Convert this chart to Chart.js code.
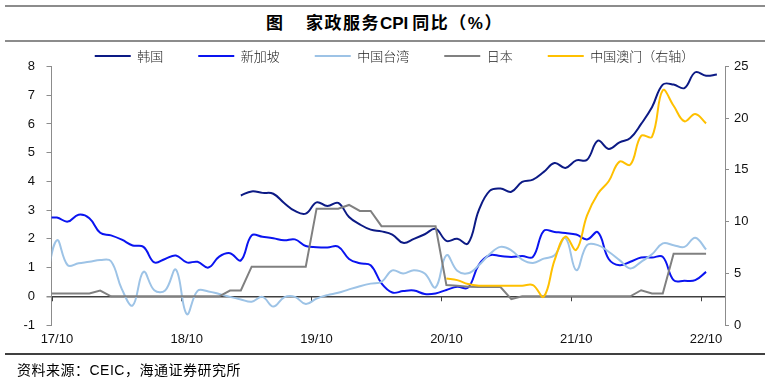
<!DOCTYPE html>
<html>
<head>
<meta charset="utf-8">
<script src="https://cdn.jsdelivr.net/npm/chart.js@4"></script>
<style>
  body { margin: 0; background: #fff; }
  #wrap { position: relative; width: 769px; height: 385px; overflow: hidden; }
  #chart { position: absolute; left: 0; top: 0; }
  .rule { position: absolute; left: 5px; width: 760px; height: 2px; background: #8c8c8c; }
  .title { position: absolute; top: 12px; color: #000; white-space: nowrap;
           font: bold 17px "Liberation Sans", "Noto Sans CJK SC", sans-serif; line-height: 23px; }
  .title .cjk { letter-spacing: 1.5px; }
  .title .lat { font-size: 17px; margin-right: 4px; }
  #source { position: absolute; left: 17px; top: 361px; color: #000; white-space: nowrap; letter-spacing: 0.5px;
            font: 14px "Liberation Sans", "Noto Sans CJK SC", sans-serif; line-height: 18px; }
</style>
</head>
<body>
<div id="wrap">
  <div class="rule" style="top:5px"></div>
  <div class="title" style="left:266px">图</div>
  <div class="title" style="left:306px"><span class="cjk">家政服务</span><span class="lat">CPI</span><span class="cjk">同比（%）</span></div>
  <div class="rule" style="top:39.5px"></div>
  <canvas id="chart" width="769" height="385"></canvas>
  <div class="rule" style="top:353px; background:#404040"></div>
  <div id="source">资料来源：CEIC，海通证券研究所</div>
</div>
<script>
// monthly categories, 17/09 .. 22/11
const months = [
  '17/09','17/10','17/11','17/12',
  '18/01','18/02','18/03','18/04','18/05','18/06','18/07','18/08','18/09','18/10','18/11','18/12',
  '19/01','19/02','19/03','19/04','19/05','19/06','19/07','19/08','19/09','19/10','19/11','19/12',
  '20/01','20/02','20/03','20/04','20/05','20/06','20/07','20/08','20/09','20/10','20/11','20/12',
  '21/01','21/02','21/03','21/04','21/05','21/06','21/07','21/08','21/09','21/10','21/11','21/12',
  '22/01','22/02','22/03','22/04','22/05','22/06','22/07','22/08','22/09','22/10','22/11'
];
const xTickLabels = ['17/10', '18/10', '19/10', '20/10', '21/10', '22/10'];

// left axis, %
const korea = [
  null, null, null, null, null, null, null, null, null, null, null, null, null, null, null, null, null, null,
  3.51, 3.65, 3.6, 3.57, 3.25, 2.97, 2.88, 3.27, 3.14, 3.25, 2.76, 2.5, 2.32, 2.26, 2.15, 1.86, 2.0, 2.16, 2.35,
  1.93, 2.0, 1.84, 3.0, 3.67, 3.75, 3.64, 3.98, 4.06, 4.33, 4.64, 4.47, 4.73, 4.75, 5.42, 5.13, 5.36, 5.51,
  6.0, 6.58, 7.37, 7.37, 7.25, 7.8, 7.68, 7.72
];
const singapore = [
  2.72, 2.74, 2.6, 2.84, 2.72, 2.21, 2.12, 1.97, 1.77, 1.72, 1.18, 1.3, 1.42, 1.18, 1.2, 1.0, 1.38, 1.5, 1.25,
  2.12, 2.07, 2.02, 1.95, 1.98, 1.75, 1.71, 1.7, 1.73, 1.3, 1.15, 1.08, 0.45, 0.13, 0.18, 0.2, 0.08, 0.1,
  0.22, 0.33, 0.3, 1.1, 1.43, 1.4, 1.37, 1.4, 1.37, 2.28, 2.24, 2.2, 2.15, 1.98, 2.23, 1.3, 1.08, 1.2,
  1.35, 1.35, 1.37, 0.56, 0.54, 0.56, 0.85, null
];
const taiwan = [
  0.5, 1.95, 1.08, 1.15, 1.2, 1.26, 1.22, 0.25, -0.32, 0.85, 0.21, 0.2, 0.93, -0.62, 0.19, 0.17, 0.08,
  -0.02, -0.11, -0.19, -0.02, -0.36, -0.04, -0.02, -0.27, -0.08, 0.04, 0.12, 0.24, 0.35, 0.44, 0.5, 0.9,
  0.79, 0.91, 0.79, 0.31, 1.43, 0.89, 0.8, 1.08, 1.47, 1.72, 1.6, 1.28, 1.16, 1.31, 1.43, 2.03, 0.91,
  1.78, 1.78, 1.55, 1.26, 0.97, 1.2, 1.46, 1.84, 1.78, 1.72, 2.04, 1.63, null
];
const japan = [
  0.1, 0.1, 0.1, 0.1, 0.1, 0.2, 0, 0, 0, 0, 0, 0, 0, 0, 0, 0, 0, 0.2, 0.2,
  1.03, 1.03, 1.03, 1.03, 1.03, 1.03, 3.05, 3.05, 3.05, 3.18, 2.97, 2.97,
  2.44, 2.44, 2.44, 2.44, 2.44, 2.44, 0.39, 0.37, 0.33, 0.32, 0.32, 0.32, -0.1,
  0, 0, 0, 0, 0, 0, 0, 0, 0, 0, 0, 0.21, 0.1, 0.1, 1.48, 1.48, 1.48, 1.48, null
];
// right axis, %
const macau = [
  null, null, null, null, null, null, null, null, null, null, null, null, null, null, null, null, null, null, null,
  null, null, null, null, null, null, null, null, null, null, null, null, null, null, null, null, null, null,
  4.5, 4.34, 3.96, 3.8, 3.8, 3.8, 3.8, 3.8, 3.86, 2.74, 6.27, 8.55, 7.27, 10.6, 12.7, 13.9, 15.8, 15.5,
  18.3, 18.2, 22.7, 21.2, 19.7, 20.4, 19.5, null
];

const axisGrey = '#8c8c8c';
Chart.defaults.font.family = "'Liberation Sans', Arial, sans-serif";
Chart.defaults.font.size = 13;
Chart.defaults.color = '#111';

function line(label, data, color, axis, tension, order) {
  return {
    label: label,
    data: months.map((m, i) => ({ x: i, y: data[i] })),
    borderColor: color,
    backgroundColor: color,
    borderWidth: 2,
    pointRadius: 0,
    tension: tension,
    yAxisID: axis,
    order: order
  };
}

// little tick marks sitting on the zero line, between years
const zeroTicks = {
  id: 'zeroTicks',
  beforeDatasetsDraw(chart) {
    const { ctx, scales: { x, y } } = chart;
    const y0 = y.getPixelForValue(0);
    ctx.save();
    ctx.strokeStyle = '#404040';
    ctx.lineWidth = 1;
    xTickLabels.forEach(l => {
      const px = Math.round(x.getPixelForValue(months.indexOf(l) - 0.5)) + 0.5;
      ctx.beginPath();
      ctx.moveTo(px, y0);
      ctx.lineTo(px, y0 + 5);
      ctx.stroke();
    });
    ctx.restore();
  }
};

new Chart(document.getElementById('chart'), {
  type: 'line',
  data: {
    datasets: [
      line('韩国', korea, '#0c1a85', 'y', 0.4, 5),
      line('新加坡', singapore, '#0a14f0', 'y', 0.4, 4),
      line('中国台湾', taiwan, '#9dc3e6', 'y', 0.4, 3),
      line('日本', japan, '#808080', 'y', 0, 2),
      line('中国澳门（右轴）', macau, '#ffc000', 'y1', 0.4, 1)
    ]
  },
  options: {
    responsive: false,
    animation: false,
    events: [],
    layout: { padding: { top: 40.5, left: 20, right: 0, bottom: 40 } },
    plugins: {
      tooltip: { enabled: false },
      legend: {
        position: 'top',
        maxHeight: 26,
        labels: {
          boxWidth: 36,
          boxHeight: 2,
          padding: 9,
          color: '#222',
          font: { family: "'Noto Sans CJK SC'", size: 13, weight: '300' },
          generateLabels: chart => {
            const items = Chart.defaults.plugins.legend.labels.generateLabels(chart)
              .sort((a, b) => a.datasetIndex - b.datasetIndex);
            return items.map((l, i) => ({
              ...l,
              text: i < items.length - 1 ? l.text + '\u3000\u3000' : l.text,
              lineWidth: 0,
              fillStyle: l.strokeStyle
            }));
          }
        }
      }
    },
    scales: {
      x: {
        type: 'linear',
        min: 0.5,
        max: 62.75,
        afterBuildTicks: s => { s.ticks = xTickLabels.map(l => ({ value: months.indexOf(l) })); },
        afterFit: s => { s.height = 20; },
        ticks: { autoSkip: false, maxRotation: 0, padding: 7, callback: v => months[v] },
        grid: { display: false, drawTicks: false },
        border: { display: false }
      },
      y: {
        position: 'left',
        min: -1,
        max: 8,
        afterFit: s => { s.width = 31.5; },
        ticks: { stepSize: 1, padding: 11.5 },
        grid: {
          color: c => c.tick.value === 0 ? '#404040' : 'rgba(0,0,0,0)',
          lineWidth: c => c.tick.value === 0 ? 1.5 : 1,
          tickColor: axisGrey,
          tickLength: 5
        },
        border: { color: axisGrey }
      },
      y1: {
        position: 'right',
        min: 0,
        max: 25,
        afterFit: s => { s.width = 44; },
        ticks: { stepSize: 5, padding: 5 },
        grid: { drawOnChartArea: false, tickColor: axisGrey, tickLength: 4 },
        border: { color: axisGrey }
      }
    }
  },
  plugins: [zeroTicks]
});
</script>
</body>
</html>
